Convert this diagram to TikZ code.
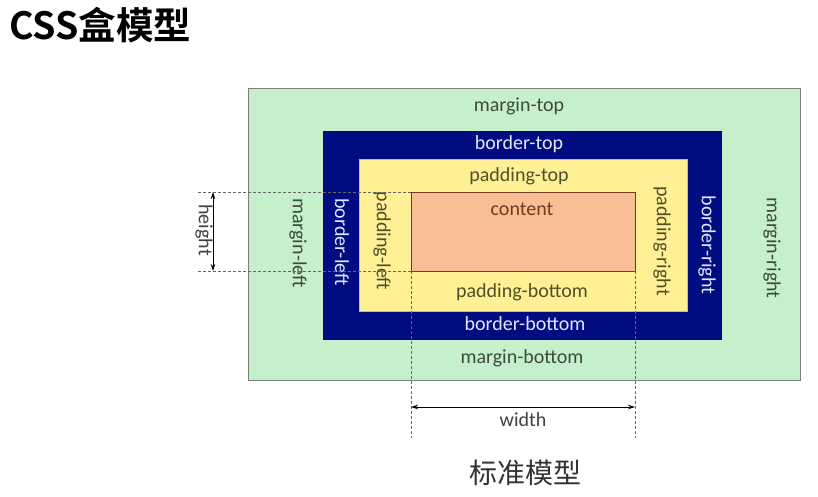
\documentclass[tikz,border=0pt]{standalone}
\usepackage{fontspec}
\setmainfont{Carlito}
\newfontfamily\cjk{Noto Sans CJK SC}
\newfontfamily\cjkbold{Noto Sans CJK SC}[BoldFont={* Bold}]
\usetikzlibrary{arrows.meta}
\definecolor{mgreen}{RGB}{198,240,204}
\definecolor{mborder}{RGB}{120,130,120}
\definecolor{bblue}{RGB}{0,12,128}
\definecolor{pyellow}{RGB}{255,240,150}
\definecolor{corange}{RGB}{249,190,150}
\definecolor{cbrown}{RGB}{110,60,30}
\definecolor{mtext}{RGB}{60,75,60}
\definecolor{btext}{RGB}{225,230,255}
\definecolor{ptext}{RGB}{80,80,40}
\tikzset{
  boxnode/.style={draw, inner sep=0pt, outer sep=0pt, anchor=north west},
  lbl/.style={font=\fontsize{20}{24}\selectfont, inner sep=0pt},
  vlbl/.style={lbl, rotate=-90},
  dimline/.style={draw=gray!80!black, densely dashed, line width=0.6pt},
  dimarrow/.style={draw=black, line width=0.8pt, {Stealth[length=7pt,width=4.5pt]}-{Stealth[length=7pt,width=4.5pt]}}
}
\begin{document}
\begin{tikzpicture}[x=1pt,y=-1pt]
\path[use as bounding box, fill=white] (0,0) rectangle (818,496);
% boxes
\node[boxnode, fill=mgreen, draw=mborder, line width=1pt, minimum width=552pt, minimum height=292pt] (margin) at (248,88) {};
\node[boxnode, fill=bblue, draw=bblue!70!black, minimum width=398pt, minimum height=208pt] (border) at (323,131) {};
\node[boxnode, fill=pyellow, draw=pyellow!80!black, minimum width=328pt, minimum height=152pt] (padding) at (359,159) {};
\node[boxnode, fill=corange, draw=cbrown, line width=0.8pt, minimum width=224pt, minimum height=79pt] (content) at (411,192) {};
% labels
\node[lbl, text=mtext] (mt) at (519,106) {margin-top};
\node[lbl, text=mtext] (mb) at (522,358) {margin-bottom};
\node[vlbl, text=mtext] (ml) at (298,243) {margin-left};
\node[vlbl, text=mtext] (mr) at (772,248) {margin-right};
\node[lbl, text=btext] (bt) at (519,144) {border-top};
\node[lbl, text=btext] (bb) at (525,324) {border-bottom};
\node[vlbl, text=btext] (bl) at (342,242) {border-left};
\node[vlbl, text=btext] (br) at (707,245) {border-right};
\node[lbl, text=ptext] (pt) at (519,176) {padding-top};
\node[lbl, text=ptext] (pb) at (522,292) {padding-bottom};
\node[vlbl, text=ptext] (pl) at (382,241) {padding-left};
\node[vlbl, text=ptext] (pr) at (662,241) {padding-right};
\node[lbl, text=cbrown] (ct) at (522,209) {content};
% height dimension
\coordinate (h1) at (198,192);
\coordinate (h2) at (198,271);
\draw[dimline] (h1) -- (content.north west);
\draw[dimline] (h2) -- (content.south west);
\coordinate (ha) at (213,192);
\coordinate (hb) at (213,271);
\draw[dimarrow] (ha) -- (hb);
\node[vlbl, text=black!75] (ht) at (204,230) {height};
% width dimension
\coordinate (w1) at (411,438);
\coordinate (w2) at (635,438);
\draw[dimline] (content.south west) -- (w1);
\draw[dimline] (content.south east) -- (w2);
\coordinate (wa) at (411,407);
\coordinate (wb) at (635,407);
\draw[dimarrow] (wa) -- (wb);
\node[lbl, text=black!75] (wt) at (523,420) {width};
% titles
\node[anchor=west, inner sep=0pt, font=\cjkbold\bfseries\fontsize{37.5}{42}\selectfont] (title) at (9,25) {CSS盒模型};
\node[inner sep=0pt, font=\cjk\fontsize{28}{32}\selectfont, text=black!80] (cap) at (525,473) {标准模型};
\end{tikzpicture}
\end{document}
